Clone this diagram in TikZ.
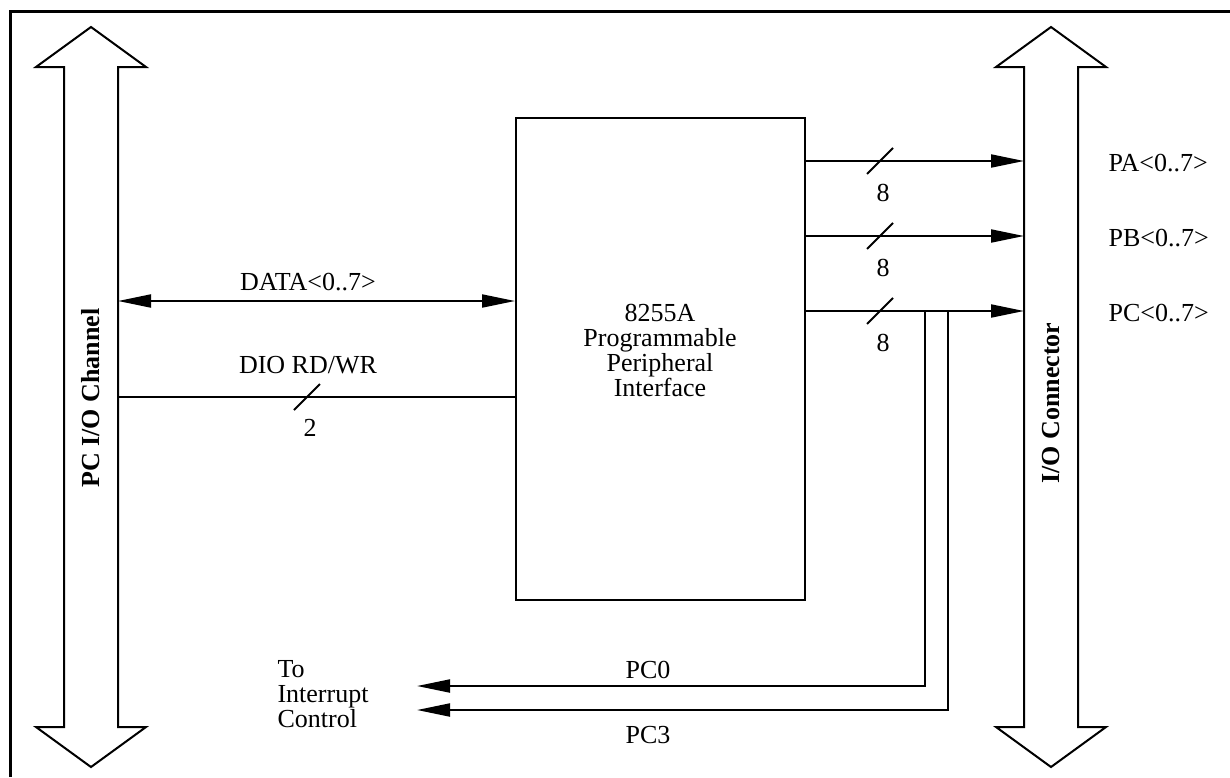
\documentclass[tikz,border=0pt]{standalone}
\usepackage{fontspec}
\setmainfont{Liberation Serif}
\usetikzlibrary{arrows.meta}

\begin{document}
\begin{tikzpicture}[
	x=1pt, y=-1pt,
	font=\fontsize{26}{25}\selectfont,
	w/.style = {line width=2pt},
	r/.style = {-{Triangle[length=33pt, width=13pt]}, line width=2pt},
	d/.style = {{Triangle[length=33pt, width=13pt]}-{Triangle[length=33pt, width=13pt]}, line width=2pt},
	box/.style = {rectangle, draw, line width=2pt, minimum width=289pt, minimum height=482pt},
	bus/.style = {font=\fontsize{26}{25}\selectfont\bfseries, rotate=90}
	]
	\useasboundingbox (0, 0) rectangle (1230, 777);
	
	% ===== ===== ===== ===== =====
	
	% Frame and buses
	\draw[line width=3pt] (10, 777) -- (10, 11) -- (1230, 11);
	
	\draw[w] (91, 27) -- (146, 67) -- (118, 67) -- (118, 727) -- (146, 727) -- (91, 767)
		-- (36, 727) -- (64, 727) -- (64, 67) -- (36, 67) -- cycle;
	\draw[w] (1051, 27) -- (1106, 67) -- (1078, 67) -- (1078, 727) -- (1106, 727) -- (1051, 767)
		-- (996, 727) -- (1024, 727) -- (1024, 67) -- (996, 67) -- cycle;
	
	\node[bus]	(pcch)	at	(91, 398)	{PC I/O Channel};
	\node[bus]	(ioc)	at	(1051, 403)	{I/O Connector};
	
	\coordinate	(pcbus)	at	(118, 0);
	\coordinate	(iobus)	at	(1024, 0);
	
	% ===== ===== ===== ===== =====
	
	% Nodes
	\node[box]	(ppi)	at	(660.5, 359)	{};
	\node[align=center]	(ppit)	at	(660, 350)	{8255A\\Programmable\\Peripheral\\Interface};
	
	\node	(datal)	at	(308, 282)	{DATA<0..7>};
	\node	(diol)	at	(308, 365)	{DIO RD/WR};
	\node	(dion)	at	(310, 428)	{2};
	
	\node	(pan)	at	(883, 193)	{8};
	\node	(pbn)	at	(883, 268)	{8};
	\node	(pcn)	at	(883, 343)	{8};
	
	\node[anchor=west]	(pal)	at	(1105, 163)	{PA<0..7>};
	\node[anchor=west]	(pbl)	at	(1105, 238)	{PB<0..7>};
	\node[anchor=west]	(pcl)	at	(1105, 313)	{PC<0..7>};
	
	\node	(pc0l)	at	(648, 670)	{PC0};
	\node	(pc3l)	at	(648, 735)	{PC3};
	\node[anchor=west, align=left]	(irql)	at	(274, 694)	{To\\Interrupt\\Control};
	
	\coordinate	(tap0)	at	(925, 311);
	\coordinate	(tap3)	at	(948, 311);
	\coordinate	(irq0)	at	(417, 686);
	\coordinate	(irq3)	at	(417, 710);
	
	% Lines
	\draw[d]	(pcbus |- 0,301)	--	(ppi.west |- 0,301);
	\draw[w]	(pcbus |- 0,397)	--	(ppi.west |- 0,397);
	\draw[w]	(294, 410)	--	(320, 384);
	
	\draw[r]	(ppi.east |- 0,161)	--	(iobus |- 0,161);
	\draw[r]	(ppi.east |- 0,236)	--	(iobus |- 0,236);
	\draw[r]	(ppi.east |- 0,311)	--	(iobus |- 0,311);
	\draw[w]	(867, 174)	--	(893, 148);
	\draw[w]	(867, 249)	--	(893, 223);
	\draw[w]	(867, 324)	--	(893, 298);
	
	\draw[r]	(tap0)	|-	(irq0);
	\draw[r]	(tap3)	|-	(irq3);
	
\end{tikzpicture}
\end{document}
